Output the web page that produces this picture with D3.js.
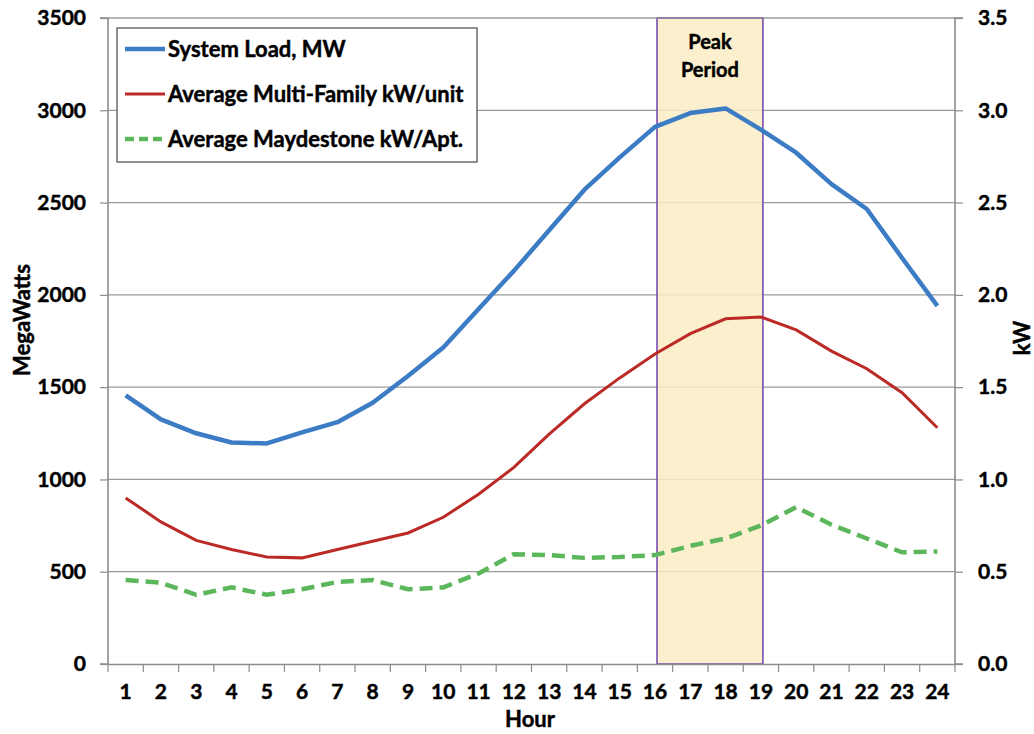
<!DOCTYPE html>
<html>
<head>
<meta charset="utf-8">
<script src="https://cdn.jsdelivr.net/npm/d3@7.9.0/dist/d3.min.js"></script>
<style>
  body { margin: 0; background: #fff; }
  svg text { font-family: Lato, "Open Sans", sans-serif; font-weight: 700; fill: #000;
    stroke: #000; stroke-width: 0.45px; }
</style>
</head>
<body>
<svg width="1034" height="734"></svg>
<script>
// hours on the x axis
const hours = d3.range(1, 25);

// System Load, MW (left axis)
const systemLoad = [1455, 1325, 1250, 1200, 1195, 1255, 1310, 1415, 1560, 1715, 1923, 2130,
  2350, 2570, 2745, 2910, 2985, 3010, 2895, 2770, 2600, 2465, 2200, 1940];

// Average Multi-Family kW/unit (right axis)
const multiFamily = [0.90, 0.77, 0.67, 0.62, 0.58, 0.575, 0.62, 0.665, 0.71, 0.795, 0.92, 1.065,
  1.245, 1.41, 1.55, 1.68, 1.79, 1.87, 1.88, 1.81, 1.695, 1.60, 1.47, 1.28];

// Average Maydestone kW/Apt. (right axis)
const maydestone = [0.455, 0.44, 0.375, 0.415, 0.375, 0.405, 0.445, 0.455, 0.405, 0.415, 0.49, 0.595,
  0.59, 0.575, 0.58, 0.59, 0.64, 0.68, 0.75, 0.85, 0.755, 0.68, 0.605, 0.61];

const leftTicks = [0, 500, 1000, 1500, 2000, 2500, 3000, 3500];
const rightTicks = [0, 0.5, 1.0, 1.5, 2.0, 2.5, 3.0, 3.5];
const peakHours = [16, 19];

const margin = { left: 108, right: 79, top: 18, bottom: 70 };
const width = 1034, height = 734;
const svg = d3.select("svg");

const x = d3.scaleBand().domain(hours).range([margin.left, width - margin.right]);
const xc = (h) => x(h) + x.bandwidth() / 2;
const yL = d3.scaleLinear().domain([0, 3500]).range([height - margin.bottom, margin.top]);
const yR = d3.scaleLinear().domain([0, 3.5]).range([height - margin.bottom, margin.top]);

const bottom = height - margin.bottom;

// grid lines
svg.append("g")
  .selectAll("line")
  .data(leftTicks.slice(1))
  .join("line")
  .attr("x1", margin.left).attr("x2", width - margin.right)
  .attr("y1", (d) => yL(d)).attr("y2", (d) => yL(d))
  .attr("stroke", "#9a9a9a").attr("stroke-width", 1.2);

// peak period box
svg.append("rect")
  .attr("x", xc(peakHours[0]) + 2)
  .attr("y", margin.top)
  .attr("width", xc(peakHours[1]) - xc(peakHours[0]))
  .attr("height", bottom - margin.top)
  .attr("fill", "#fcecc4").attr("fill-opacity", 0.85)
  .attr("stroke", "#7a4db0").attr("stroke-width", 1.6);

const peakMid = (xc(peakHours[0]) + xc(peakHours[1])) / 2 + 2;
svg.append("text").attr("x", peakMid).attr("y", 49).attr("text-anchor", "middle")
  .attr("font-size", 20).text("Peak");
svg.append("text").attr("x", peakMid).attr("y", 77).attr("text-anchor", "middle")
  .attr("font-size", 20).text("Period");

// axes
const axisColor = "#8c8c8c";
const leftAxis = svg.append("g")
  .attr("transform", `translate(${margin.left},0)`)
  .call(d3.axisLeft(yL).tickValues(leftTicks).tickSize(8).tickPadding(14)
    .tickFormat(d3.format("d")));
const rightAxis = svg.append("g")
  .attr("transform", `translate(${width - margin.right},0)`)
  .call(d3.axisRight(yR).tickValues(rightTicks).tickSize(8).tickPadding(15)
    .tickFormat(d3.format(".1f")));
const bottomAxis = svg.append("g")
  .attr("transform", `translate(0,${bottom})`)
  .call(d3.axisBottom(x).tickSize(0).tickPadding(20));

// category boundary ticks on the x axis
svg.append("g")
  .selectAll("line")
  .data(d3.range(0, 25))
  .join("line")
  .attr("x1", (i) => margin.left + i * x.step())
  .attr("x2", (i) => margin.left + i * x.step())
  .attr("y1", bottom).attr("y2", bottom + 8)
  .attr("stroke", axisColor).attr("stroke-width", 1.2);

[leftAxis, rightAxis, bottomAxis].forEach((g) => {
  g.select(".domain").attr("stroke", axisColor).attr("stroke-width", 1.6);
  g.selectAll(".tick line").attr("stroke", axisColor).attr("stroke-width", 1.2);
  g.selectAll("text").attr("font-size", 21).attr("font-family", "Lato, sans-serif")
    .attr("font-weight", 700).attr("fill", "#000");
});
rightAxis.select(".domain").attr("d", `M8,${margin.top}H0V${bottom}H8`);
leftAxis.select(".domain").attr("d", `M-8,${margin.top}H0V${bottom}H-8`);
// top border line
svg.append("line")
  .attr("x1", margin.left).attr("x2", width - margin.right)
  .attr("y1", margin.top).attr("y2", margin.top)
  .attr("stroke", "#9a9a9a").attr("stroke-width", 1.2);

// series lines
const lineL = d3.line().x((d, i) => xc(hours[i])).y((d) => yL(d));
const lineR = d3.line().x((d, i) => xc(hours[i])).y((d) => yR(d));

svg.append("path").datum(maydestone).attr("d", lineR)
  .attr("fill", "none").attr("stroke", "#5cb65c").attr("stroke-width", 4.5)
  .attr("stroke-dasharray", "13,7");
svg.append("path").datum(multiFamily).attr("d", lineR)
  .attr("fill", "none").attr("stroke", "#bb2a26").attr("stroke-width", 3);
svg.append("path").datum(systemLoad).attr("d", lineL)
  .attr("fill", "none").attr("stroke", "#3c7cc4").attr("stroke-width", 4.5)
  .attr("stroke-linejoin", "round");

// axis titles
svg.append("text").attr("transform", "translate(30,320) rotate(-90)")
  .attr("text-anchor", "middle").attr("font-size", 22).text("MegaWatts");
svg.append("text").attr("transform", "translate(1030,338) rotate(-90)")
  .attr("text-anchor", "middle").attr("font-size", 22).text("kW");
svg.append("text").attr("x", 530).attr("y", 727)
  .attr("text-anchor", "middle").attr("font-size", 22).text("Hour");

// legend
const legendItems = [
  { label: "System Load, MW", color: "#3c7cc4", width: 4.5, dash: null },
  { label: "Average Multi-Family kW/unit", color: "#bb2a26", width: 3, dash: null },
  { label: "Average Maydestone kW/Apt.", color: "#5cb65c", width: 4.5, dash: "9,5" },
];
const legend = svg.append("g");
legend.append("rect").attr("x", 117).attr("y", 28).attr("width", 360).attr("height", 134)
  .attr("fill", "#fff").attr("stroke", "#555").attr("stroke-width", 1.3);
legendItems.forEach((d, i) => {
  const cy = 49 + i * 45;
  legend.append("line").attr("x1", 125).attr("x2", 165).attr("y1", cy).attr("y2", cy)
    .attr("stroke", d.color).attr("stroke-width", d.width)
    .attr("stroke-dasharray", d.dash);
  legend.append("text").attr("x", 168).attr("y", cy).attr("dy", "0.35em")
    .attr("font-size", 22).text(d.label);
});
</script>
</body>
</html>
